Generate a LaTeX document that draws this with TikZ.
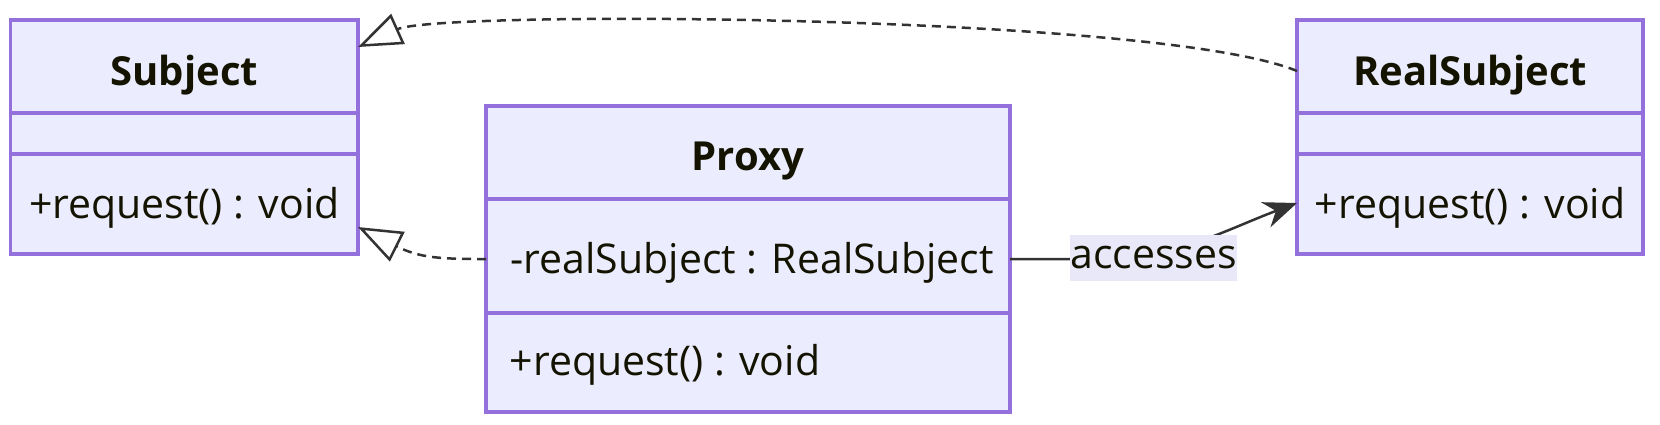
\documentclass[tikz,border=0pt]{standalone}
\usepackage{fontspec}
\setmainfont{Open Sans}
\usetikzlibrary{arrows.meta,calc}
\definecolor{boxfill}{HTML}{ECECFF}
\definecolor{boxline}{HTML}{9370DB}
\definecolor{txt}{HTML}{131300}
\definecolor{lnk}{HTML}{333333}
\definecolor{lblbg}{HTML}{E8E8F8}
\begin{document}
\begin{tikzpicture}[x=0.3pt, y=-0.3pt,
  every node/.style={font=\fontsize{12.3}{14}\selectfont, text=txt},
  classbox/.style={draw=boxline, fill=boxfill, line width=0.95pt, inner sep=0pt, outer sep=0pt},
  divider/.style={draw=boxline, line width=0.95pt},
  title/.style={font=\fontsize{12}{14}\selectfont\bfseries, anchor=base, inner sep=0pt},
  member/.style={anchor=base, inner sep=0pt},
  memberl/.style={anchor=base west, inner sep=0pt},
  realize/.style={draw=lnk, line width=0.75pt, dash pattern=on 2.7pt off 1.8pt,
    -{Triangle[open,length=13.2pt,width=9.8pt,line width=0.75pt]}},
  assoc/.style={draw=lnk, line width=0.75pt, -{Stealth[length=10pt,width=8pt]}},
  edgelabel/.style={fill=lblbg, inner sep=0pt, minimum width=47.1pt, minimum height=13.8pt}
]
\fill[white] (0,0) rectangle (1660,424);
\useasboundingbox (0,0) rectangle (1660,424);

% Subject
\node[classbox, minimum width=104.2pt, minimum height=70.2pt] (subject) at (184.3,137) {};
\draw[divider] ($(subject.north west)+(0,93)$) -- ($(subject.north east)+(0,93)$);
\draw[divider] ($(subject.north west)+(0,134)$) -- ($(subject.north east)+(0,134)$);
\node[title] (subjectName) at (184.3,85) {Subject};
\node[member] (subjectOp) at (184.3,218) {+request() : void};

% Proxy
\node[classbox, minimum width=157.2pt, minimum height=91.8pt] (proxy) at (748,259) {};
\draw[divider] ($(proxy.north west)+(0,93)$) -- ($(proxy.north east)+(0,93)$);
\draw[divider] ($(proxy.north west)+(0,207)$) -- ($(proxy.north east)+(0,207)$);
\node[title] (proxyName) at (748,170) {Proxy};
\node[memberl] (proxyAttr) at (510,273) {-realSubject : RealSubject};
\node[memberl] (proxyOp) at (509,375) {+request() : void};

% RealSubject
\node[classbox, minimum width=103.8pt, minimum height=70.2pt] (real) at (1470,137) {};
\draw[divider] ($(real.north west)+(0,93)$) -- ($(real.north east)+(0,93)$);
\draw[divider] ($(real.north west)+(0,134)$) -- ($(real.north east)+(0,134)$);
\node[title] (realName) at (1470,85) {RealSubject};
\node[member] (realOp) at (1470,218) {+request() : void};

% RealSubject realizes Subject
\draw[realize] ($(real.west)+(0,-66)$) .. controls (1160,14) and (440,10) .. ($(subject.east)+(0,-90)$);

% Proxy realizes Subject
\draw[realize] (proxy.west) .. controls (440,259) and (420,258) .. ($(subject.east)+(0,90)$);

% Proxy accesses RealSubject
\draw[assoc] (proxy.east) -- (1100,259) .. controls (1175,259) and (1225,230) .. ($(real.west)+(0,66)$);
\node[edgelabel] (accLabel) at (1153.5,258) {accesses};
\end{tikzpicture}
\end{document}
